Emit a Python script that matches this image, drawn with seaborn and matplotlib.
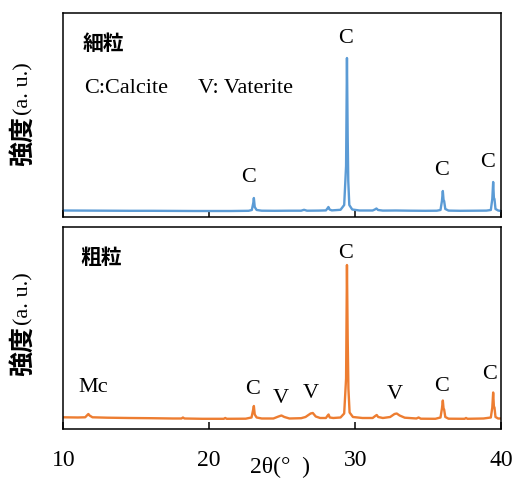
import matplotlib
matplotlib.use("Agg")
import matplotlib.pyplot as plt
import pandas as pd
import seaborn as sns

# ---- XRD patterns (2θ in degrees, intensity in arbitrary units above baseline) ----
fine_2theta = [10.0, 11.5, 13.0, 14.5, 16.0, 17.5, 19.0, 20.0, 21.5, 22.7,
               22.92, 23.02, 23.06, 23.12, 23.25, 23.6, 24.5, 25.5, 26.3, 26.5,
               26.7, 27.5, 28.0, 28.1, 28.17, 28.25, 28.4, 29.0, 29.25, 29.38,
               29.44, 29.49, 29.53, 29.6, 29.8, 30.3, 31.2, 31.35, 31.46, 31.57,
               31.9, 32.8, 33.8, 34.8, 35.6, 35.85, 35.95, 36.01, 36.06, 36.1,
               36.18, 36.4, 37.2, 38.2, 39.0, 39.3, 39.4, 39.46, 39.51, 39.55,
               39.62, 39.8, 40.0]
fine_intensity = [0.5, 0.4, 0.3, 0.2, 0.2, 0.1, 0.0, 0.0, 0.0, 0.2,
                  1.0, 8.0, 13.0, 4.0, 1.0, 0.3, 0.2, 0.3, 0.3, 1.2,
                  0.3, 0.4, 0.6, 2.5, 4.0, 1.5, 0.6, 1.2, 6.0, 45.0,
                  153.0, 74.0, 30.0, 6.0, 1.5, 0.5, 0.5, 1.5, 2.5, 1.0,
                  0.4, 0.5, 0.3, 0.2, 0.3, 1.0, 10.0, 20.0, 11.0, 10.0,
                  2.0, 0.4, 0.2, 0.3, 0.4, 1.0, 12.0, 29.0, 13.0, 12.0,
                  2.0, 0.5, 0.0]

coarse_2theta = [10.0, 11.0, 11.5, 11.65, 11.72, 11.8, 12.0, 13.0, 14.5, 16.0,
                 17.5, 18.1, 18.2, 18.3, 19.5, 21.0, 21.1, 21.2, 22.5, 22.9,
                 23.0, 23.06, 23.12, 23.25, 23.6, 24.4, 24.75, 24.95, 25.15, 25.5,
                 26.3, 26.6, 26.95, 27.1, 27.3, 27.6, 28.0, 28.12, 28.18, 28.26,
                 28.5, 29.0, 29.25, 29.38, 29.44, 29.49, 29.54, 29.62, 29.85, 30.5,
                 31.2, 31.38, 31.48, 31.58, 31.9, 32.4, 32.7, 32.85, 33.05, 33.4,
                 34.2, 34.35, 34.5, 35.5, 35.85, 35.95, 36.01, 36.06, 36.1, 36.18,
                 36.4, 37.5, 37.6, 37.7, 38.8, 39.3, 39.4, 39.46, 39.51, 39.55,
                 39.62, 39.8, 40.0]
coarse_intensity = [1.2, 1.0, 1.2, 3.5, 4.5, 3.0, 1.2, 0.8, 0.5, 0.3,
                    0.0, 0.0, 1.0, 0.0, -0.3, -0.3, 0.5, -0.3, -0.2, 1.0,
                    8.0, 12.5, 4.0, 1.0, 0.0, 0.0, 2.0, 3.0, 1.5, 0.0,
                    0.3, 1.5, 5.0, 5.5, 2.0, 0.5, 0.5, 3.0, 4.0, 1.0,
                    0.5, 1.0, 5.0, 40.0, 153.5, 80.0, 30.0, 6.0, 1.5, 0.5,
                    0.5, 2.5, 3.5, 1.5, 0.5, 1.5, 4.5, 5.0, 3.0, 0.8,
                    0.0, 1.0, -0.2, -0.3, 1.0, 10.0, 18.0, 10.0, 9.0, 1.5,
                    -0.2, -0.3, 0.5, -0.3, 0.0, 1.0, 11.0, 26.0, 12.0, 11.0,
                    1.5, 0.0, 0.0]

x_ticks = [10, 20, 30, 40]

# Phase markers: (text, 2θ, height)
fine_marks = [("C", 22.73, 34), ("C", 29.36, 172.7), ("C", 35.89, 41), ("C", 39.06, 48.7)]
coarse_marks = [("Mc", 12.06, 30.5), ("C", 22.99, 28.5), ("V", 24.91, 19.5),
                ("V", 26.95, 24.5), ("C", 29.36, 165.5), ("V", 32.69, 23.5),
                ("C", 35.89, 31.5), ("C", 39.2, 43.5)]

BLUE = "#5B9BD5"
ORANGE = "#ED7D31"

sns.set_theme(style="ticks")
plt.rcParams["font.family"] = ["Liberation Serif", "Noto Sans CJK JP", "DejaVu Sans"]
plt.rcParams["axes.edgecolor"] = "black"
plt.rcParams["axes.linewidth"] = 1.1
plt.rcParams["text.color"] = "black"
plt.rcParams["xtick.color"] = "black"

fig = plt.figure(figsize=(5.15, 4.79), dpi=100)
ax_top = fig.add_axes([0.1229, 0.5476, 0.850, 0.4246])
ax_bot = fig.add_axes([0.1229, 0.1044, 0.850, 0.4223])

fine_df = pd.DataFrame({"two_theta": fine_2theta, "intensity": fine_intensity})
coarse_df = pd.DataFrame({"two_theta": coarse_2theta, "intensity": coarse_intensity})

sns.lineplot(data=fine_df, x="two_theta", y="intensity", ax=ax_top,
             color=BLUE, linewidth=1.7, estimator=None, sort=False)
sns.lineplot(data=coarse_df, x="two_theta", y="intensity", ax=ax_bot,
             color=ORANGE, linewidth=1.7, estimator=None, sort=False)

ax_top.set_ylim(-5.7, 197.7)
ax_bot.set_ylim(-10.5, 191.8)

for ax in (ax_top, ax_bot):
    ax.set_xlim(10, 40)
    ax.set_xticks(x_ticks)
    ax.set_yticks([])
    ax.set_xlabel("")
    ax.set_ylabel("")
    ax.tick_params(axis="x", direction="in", length=5, width=1.1, color="black",
                   labelsize=17, pad=15, labelcolor="black")
    for side in ("top", "right", "left", "bottom"):
        ax.spines[side].set_visible(True)
        ax.spines[side].set_color("black")

ax_top.tick_params(axis="x", labelbottom=False)

cjk = ["Noto Sans CJK JP", "DejaVu Sans"]
ax_top.text(0.045, 168, "細粒", transform=ax_top.get_yaxis_transform(),
            fontsize=15, fontweight="bold", family=cjk, ha="left", va="center")
ax_bot.text(0.04, 161.5, "粗粒", transform=ax_bot.get_yaxis_transform(),
            fontsize=15, fontweight="bold", family=cjk, ha="left", va="center")

ax_top.text(11.45, 123, "C:Calcite", fontsize=16, ha="left", va="center")
ax_top.text(19.25, 123, "V: Vaterite", fontsize=16, ha="left", va="center")

for label, x, y in fine_marks:
    ax_top.text(x, y, label, fontsize=16, ha="center", va="center")
for label, x, y in coarse_marks:
    ax_bot.text(x, y, label, fontsize=16, ha="center", va="center")

# Vertical intensity titles: kanji followed by the serif unit
for base_px in (166, 376):
    fig.text(23 / 515, 1 - base_px / 479, "強度", rotation=90, fontsize=18,
             fontweight="bold", family=cjk, ha="center", va="bottom")
    fig.text(24 / 515, 1 - (base_px - 51) / 479, "(a. u.)", rotation=90,
             fontsize=16, family=["Liberation Serif"], ha="center", va="bottom")

fig.text(250 / 515, 1 - 457 / 479, "2θ(°  )", fontsize=17, ha="left", va="top",
         family=["Liberation Serif", "DejaVu Serif"])

fig.savefig("out.png", dpi=100)
